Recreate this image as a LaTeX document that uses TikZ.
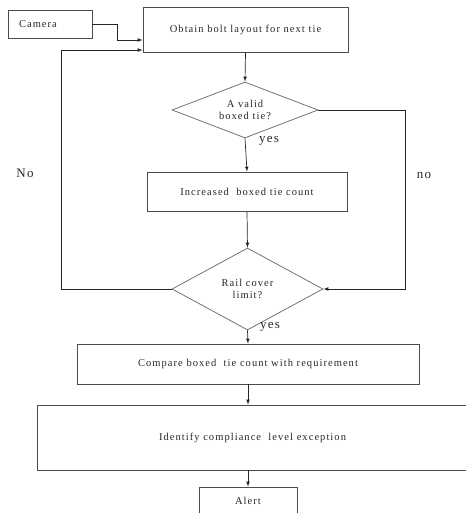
\documentclass[tikz,border=0pt]{standalone}
\usepackage{fontspec}
\setmainfont{Liberation Serif}
\newfontfamily\flowfont[LetterSpace=10]{Liberation Serif}
\usetikzlibrary{arrows,shapes,positioning}

\begin{document}
\begin{tikzpicture}[x=1pt,y=-1pt,>=latex]
  \tikzstyle{every node}+=[inner sep=0pt,text=black!85,font=\flowfont\fontsize{10.5}{12}\selectfont]
  \tikzstyle{stepbox}=[draw=black!70,line width=0.8pt,rectangle]
  \tikzstyle{query}=[draw=black!55,line width=0.8pt,diamond,aspect=2,align=center]
  \tikzstyle{flow}=[->,draw=black!85,line width=0.7pt]
  \tikzstyle{tag}=[font=\flowfont\fontsize{13}{15}\selectfont]
  \useasboundingbox (0,0) rectangle (465,513);
  % boxes
  \node [stepbox,minimum height=28pt,inner xsep=11pt,text width=62pt,align=left] (camera) at (50,24) {Camera};
  \node [stepbox,minimum width=205pt,minimum height=45pt] (obtain) at (245.5,29.5) {Obtain bolt layout for next tie};
  \node [query,minimum width=146pt,minimum height=56pt] (valid) at (245,110) {A valid\\boxed tie?};
  \node [stepbox,minimum width=200pt,minimum height=39pt] (incr) at (247,191.5) {Increased\ \ boxed tie count};
  \node [query,minimum width=151pt,minimum height=82pt] (rail) at (247.5,289) {Rail cover\\limit?};
  \node [stepbox,minimum width=342pt,minimum height=40pt] (compare) at (248,364) {Compare boxed\ \ tie count with requirement};
  \node [stepbox,minimum width=431pt,minimum height=65pt] (ident) at (252.5,437.5) {Identify compliance\ \ level exception};
  \node [stepbox,minimum width=98pt,minimum height=27pt] (alert) at (248,500.5) {Alert};
  % labels
  \node [tag] (yes1) at (269,141) {yes};
  \node [tag] (noL) at (25,173) {No};
  \node [tag] (noR) at (424,175) {no};
  \node [tag] (yes2) at (270,327) {yes};
  % connectors
  \draw [flow] (camera.east) -- ++(25,0) |- ([yshift=-10.5pt]obtain.west);
  \draw [flow] (obtain.south) -- (valid.north);
  \draw [flow] (valid.south) -- (incr.north);
  \draw [flow] (incr.south) -- (rail.north);
  \draw [flow] (valid.east) -- ++(87,0) |- (rail.east);
  \draw [flow] (rail.west) -- ++(-110,0) |- ([yshift=-20.5pt]obtain.west);
  \draw [flow] (rail.south) -- (compare.north);
  \draw [flow] (compare.south) -- (ident.north -| compare.south);
  \draw [flow] (ident.south -| alert.north) -- (alert.north);
\end{tikzpicture}
\end{document}
